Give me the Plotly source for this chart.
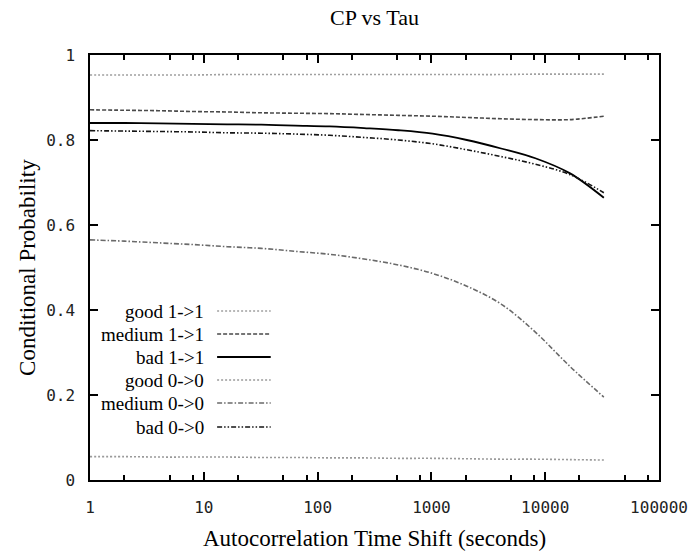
import plotly.graph_objects as go

# Autocorrelation time shift (seconds), powers of two from 1 s up to 32768 s
tau = [1, 2, 4, 8, 16, 32, 64, 128, 256, 512, 1024, 2048, 4096, 8192, 16384, 32768]

# Conditional probability per link quality class
good_11 = [0.953, 0.953, 0.953, 0.953, 0.954, 0.954, 0.954, 0.954, 0.954, 0.954, 0.954, 0.954, 0.954, 0.955, 0.955, 0.955]
medium_11 = [0.871, 0.870, 0.869, 0.867, 0.866, 0.864, 0.863, 0.862, 0.860, 0.858, 0.856, 0.853, 0.850, 0.848, 0.848, 0.856]
bad_11 = [0.840, 0.840, 0.839, 0.838, 0.837, 0.836, 0.834, 0.832, 0.828, 0.823, 0.815, 0.800, 0.780, 0.757, 0.722, 0.664]
good_00 = [0.055, 0.055, 0.054, 0.054, 0.054, 0.053, 0.053, 0.052, 0.052, 0.051, 0.051, 0.050, 0.049, 0.049, 0.048, 0.047]
medium_00 = [0.565, 0.562, 0.558, 0.554, 0.549, 0.545, 0.538, 0.531, 0.520, 0.506, 0.486, 0.456, 0.414, 0.348, 0.268, 0.195]
bad_00 = [0.822, 0.821, 0.820, 0.819, 0.817, 0.816, 0.814, 0.811, 0.806, 0.800, 0.791, 0.777, 0.761, 0.743, 0.719, 0.676]

series_names = ["good 1->1", "medium 1->1", "bad 1->1", "good 0->0", "medium 0->0", "bad 0->0"]
series_values = [good_11, medium_11, bad_11, good_00, medium_00, bad_00]

x_tick_vals = [1, 10, 100, 1000, 10000, 100000]
x_tick_text = ["1", "10", "100", "1000", "10000", "100000"]
y_tick_vals = [0, 0.2, 0.4, 0.6, 0.8, 1]
y_tick_text = ["0", "0.2", "0.4", "0.6", "0.8", "1"]

# line styles: (colour, dash, width)
styles = [
    ("#a0a0a0", "2px,2px", 1.6),
    ("#4a4a4a", "4px,2px", 1.6),
    ("#000000", "solid", 1.8),
    ("#9a9a9a", "2px,2px", 1.6),
    ("#6a6a6a", "5px,2px,1.5px,2px", 1.6),
    ("#151515", "5px,2px,1.5px,2px,1.5px,2px", 1.6),
]

W, H = 700, 556
L, R, T, B = 90, 37, 55, 76
PW, PH = W - L - R, H - T - B


def px_x(px):
    return (px - L) / PW


def px_y(py):
    return (H - B - py) / PH


fig = go.Figure()
for name, vals, (col, dash, lw) in zip(series_names, series_values, styles):
    fig.add_trace(go.Scatter(
        x=tau, y=vals, mode="lines", name=name,
        line=dict(color=col, dash=dash, width=lw, shape="spline", smoothing=1.0),
        showlegend=False,
    ))

serif = "Liberation Serif, Times New Roman, serif"
mono = "DejaVu Sans Mono, monospace"

annotations = []
shapes = []
# key: label text on the left, line sample on the right
row_py = [311, 334, 357, 380, 403, 427]
for name, (col, dash, lw), py in zip(series_names, styles, row_py):
    annotations.append(dict(
        x=px_x(207), y=px_y(py), xref="paper", yref="paper",
        text=name, showarrow=False, xanchor="right", yanchor="middle",
        font=dict(family=serif, size=19, color="#000"),
    ))
    shapes.append(dict(
        type="line", xref="paper", yref="paper",
        x0=px_x(218), x1=px_x(272), y0=px_y(py), y1=px_y(py),
        line=dict(color=col, dash=dash, width=lw),
    ))

annotations.append(dict(
    x=0.5, y=px_y(18), xref="paper", yref="paper", text="CP vs Tau",
    showarrow=False, xanchor="center", yanchor="middle",
    font=dict(family=serif, size=22, color="#000"),
))
annotations.append(dict(
    x=0.5, y=px_y(538), xref="paper", yref="paper",
    text="Autocorrelation Time Shift (seconds)",
    showarrow=False, xanchor="center", yanchor="middle",
    font=dict(family=serif, size=23, color="#000"),
))
annotations.append(dict(
    x=px_x(27), y=0.5, xref="paper", yref="paper",
    text="Conditional Probability", textangle=-90,
    showarrow=False, xanchor="center", yanchor="middle",
    font=dict(family=serif, size=23, color="#000"),
))

minor_x = []
for d in [1, 10, 100, 1000, 10000]:
    minor_x += [2 * d, 5 * d, 8 * d]

fig.update_layout(
    width=W, height=H,
    margin=dict(l=L, r=R, t=T, b=B, pad=0),
    paper_bgcolor="white", plot_bgcolor="white",
    showlegend=False,
    annotations=annotations,
    shapes=shapes,
    xaxis=dict(
        type="log", range=[0, 5],
        tickmode="array", tickvals=x_tick_vals, ticktext=x_tick_text,
        ticks="inside", ticklen=8, tickwidth=1.5, tickcolor="#000",
        minor=dict(tickmode="array", tickvals=minor_x, ticks="inside",
                   ticklen=5, tickwidth=1.5, tickcolor="#000", showgrid=False),
        showline=True, linecolor="#000", linewidth=1.5, mirror="allticks",
        showgrid=False, zeroline=False,
        tickfont=dict(family=mono, size=16, color="#222"),
        ticklabelstandoff=12,
    ),
    yaxis=dict(
        range=[0, 1],
        tickmode="array", tickvals=y_tick_vals, ticktext=y_tick_text,
        ticks="inside", ticklen=8, tickwidth=1.5, tickcolor="#000",
        showline=True, linecolor="#000", linewidth=1.5, mirror="allticks",
        showgrid=False, zeroline=False,
        tickfont=dict(family=mono, size=16, color="#222"),
        ticklabelstandoff=10,
    ),
)

fig.write_html("out.html")
